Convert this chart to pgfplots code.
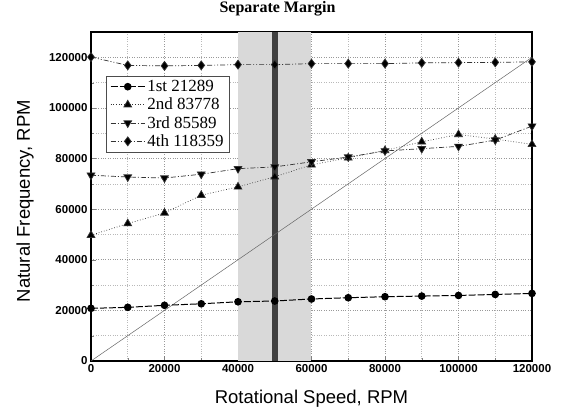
\documentclass[border=0pt]{standalone}
\usepackage{fontspec}
\setmainfont{Liberation Sans}
\newfontfamily\serif{Liberation Serif}
\usepackage{pgfplots}
\pgfplotsset{compat=1.18}
\begin{document}
\begin{tikzpicture}
\begin{axis}[
  name=ax,
  scale only axis,
  width=441pt, height=329pt,
  xmin=0, xmax=120000, ymin=0, ymax=130000,
  xtick={0,20000,...,120000},
  ytick={0,20000,...,120000},
  minor tick num=1,
  scaled ticks=false,
  /pgf/number format/.cd, fixed, precision=0, 1000 sep={}, assume math mode=true, /pgfplots/.cd,
  tick label style={font=\fontsize{11.5}{13}\selectfont\bfseries},
  tick align=inside, tick pos=left,
  major tick length=5pt, minor tick length=3pt,
  grid=both,
  major grid style={dotted, gray!80, line width=0.6pt},
  minor grid style={dotted, gray!55, line width=0.5pt},
  axis line style={line width=1.2pt},
  xlabel={Rotational Speed, RPM},
  ylabel={Natural Frequency, RPM},
  label style={font=\fontsize{18.5}{22}\selectfont},
  xlabel style={at={(axis description cs:0.5,-0.1155)}, anchor=center},
  ylabel style={at={(axis description cs:-0.1497,0.486)}, anchor=center},
  title={\serif\bfseries Separate Margin},
  title style={at={(axis description cs:0.423,1.052)}, anchor=center, font=\fontsize{16}{18}\selectfont},
  legend style={at={(0.034,0.866)}, anchor=north west, draw=black!70, font=\fontsize{17}{19}\selectfont\serif, row sep=1pt, inner xsep=4pt, inner ysep=2pt, /tikz/every even column/.append style={column sep=2pt}},
  legend cell align=left,
  legend image code/.code={\draw[mark repeat=2,mark phase=2] plot coordinates {(0cm,0cm)(0.6cm,0cm)(1.2cm,0cm)};},
]
% separate margin bands
\addplot[fill=gray!30, draw=none, forget plot] coordinates {(40000,0) (60000,0) (60000,130000) (40000,130000)} -- cycle;
\addplot[fill=black!75, draw=none, forget plot] coordinates {(49200,0) (51000,0) (51000,130000) (49200,130000)} -- cycle;
% 1x line
\addplot[gray!80!black, line width=0.5pt, forget plot] coordinates {(0,0) (120000,120000)};
% 1st
\addplot[black, line width=1pt, dash pattern=on 7pt off 2pt, mark=*, mark size=3.3pt, mark options={solid, fill=black}] coordinates {
(0,20800) (10000,21200) (20000,22000) (30000,22600) (40000,23400) (50000,23700) (60000,24500)
(70000,25000) (80000,25400) (90000,25650) (100000,25900) (110000,26300) (120000,26700)};
\addlegendentry{1st 21289}
% 2nd
\addplot[black!80, line width=0.7pt, dotted, mark=triangle*, mark size=4.5pt, mark options={solid, fill=black}] coordinates {
(0,49700) (10000,54300) (20000,58500) (30000,65500) (40000,68800) (50000,72800) (60000,77500)
(70000,80300) (80000,83200) (90000,86600) (100000,89500) (110000,87700) (120000,85600)};
\addlegendentry{2nd 83778}
% 3rd
\addplot[black!80, line width=0.7pt, dash pattern=on 5pt off 2pt on 1pt off 2pt, mark=triangle*, mark size=4.5pt, mark options={solid, fill=black, rotate=180}] coordinates {
(0,73400) (10000,72700) (20000,72300) (30000,73800) (40000,76000) (50000,76700) (60000,78700)
(70000,80600) (80000,83000) (90000,83900) (100000,84800) (110000,87300) (120000,92800)};
\addlegendentry{3rd 85589}
% 4th
\addplot[black!80, line width=0.7pt, dash pattern=on 5pt off 2pt on 1pt off 2pt on 1pt off 2pt, mark=diamond*, mark size=4.5pt, mark options={solid, fill=black}] coordinates {
(0,120100) (10000,116800) (20000,116600) (30000,116800) (40000,117100) (50000,117100) (60000,117500)
(70000,117500) (80000,117500) (90000,117800) (100000,117900) (110000,118000) (120000,118200)};
\addlegendentry{4th 118359}
\end{axis}
\pgfresetboundingbox
\path[use as bounding box] ([shift={(-91pt,-50pt)}]ax.south west) rectangle ++(566pt,411pt);
\end{tikzpicture}
\end{document}
